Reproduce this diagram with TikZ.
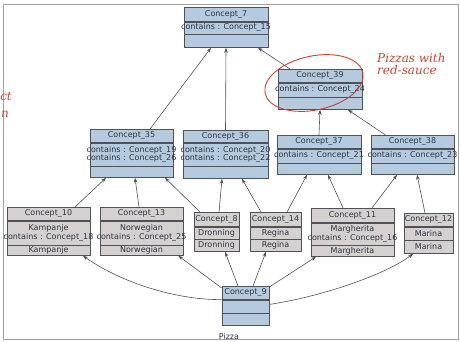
\documentclass[tikz,border=0pt]{standalone}
\usepackage{fontspec}
\setmainfont{DejaVu Sans}
\newfontfamily\handfont{DejaVu Serif}
\usepackage{tikz}
\usetikzlibrary{positioning}
\usetikzlibrary{calc}
\usetikzlibrary{arrows.meta}

\definecolor{conceptblue}{HTML}{B4CBDF}
\definecolor{conceptgrey}{HTML}{D5D1D1}
\definecolor{edgegrey}{HTML}{505258}
\definecolor{textgrey}{HTML}{2E3440}
\definecolor{framegrey}{HTML}{A0A0A0}
\definecolor{inkred}{HTML}{D0402F}

% zero-width label so the text may spill over the box
\newcommand{\nowidth}[1]{\makebox[0pt]{#1}}

\begin{document}
\begin{tikzpicture}[x=1pt, y=-1pt, font=\fontsize{8}{8.5}\selectfont,
    blue/.style={draw=edgegrey, fill=conceptblue, text=textgrey, inner sep=0pt, align=center, line width=0.6pt},
    grey/.style={draw=edgegrey, fill=conceptgrey, text=textgrey, inner sep=0pt, align=center, line width=0.6pt},
    edge/.style={edgegrey, line width=0.6pt, -{Stealth[length=5pt, width=3.6pt]}},
    hand/.style={text=inkred, inner sep=0pt, align=left, font=\handfont\itshape\fontsize{12}{12.5}\selectfont}]
        \useasboundingbox (0,0) rectangle (460,342);
        % Draw the frame
        \draw[framegrey, line width=0.7pt] (3,4) rectangle (458,339);

        % Draw the top concepts
        \node[blue, minimum width=84, minimum height=14, anchor=north] (t7) at (226,7) {\nowidth{Concept\_7}};
        \node[blue, minimum width=84, minimum height=12, below=0pt of t7] (a7) {\nowidth{contains : Concept\_15}};
        \node[blue, minimum width=84, minimum height=13, below=0pt of a7] (e7) {};

        \node[blue, minimum width=84, minimum height=13, anchor=north] (t39) at (320,69) {\nowidth{Concept\_39}};
        \node[blue, minimum width=84, minimum height=14, below=0pt of t39] (a39) {\nowidth{contains : Concept\_24}};
        \node[blue, minimum width=84, minimum height=12, below=0pt of a39] (e39) {};

        % Draw the middle row
        \node[blue, minimum width=83, minimum height=13, anchor=north] (t35) at (131.5,129) {\nowidth{Concept\_35}};
        \node[blue, minimum width=83, minimum height=23, below=0pt of t35] (a35) {\nowidth{contains : Concept\_19}\\\nowidth{contains : Concept\_26}};
        \node[blue, minimum width=83, minimum height=11, below=0pt of a35] (e35) {};

        \node[blue, minimum width=85, minimum height=12, anchor=north] (t36) at (225.5,130) {\nowidth{Concept\_36}};
        \node[blue, minimum width=85, minimum height=23, below=0pt of t36] (a36) {\nowidth{contains : Concept\_20}\\\nowidth{contains : Concept\_22}};
        \node[blue, minimum width=85, minimum height=12, below=0pt of a36] (e36) {};

        \node[blue, minimum width=84, minimum height=13, anchor=north] (t37) at (319,135) {\nowidth{Concept\_37}};
        \node[blue, minimum width=84, minimum height=14, below=0pt of t37] (a37) {\nowidth{contains : Concept\_21}};
        \node[blue, minimum width=84, minimum height=11, below=0pt of a37] (e37) {};

        \node[blue, minimum width=83, minimum height=13, anchor=north] (t38) at (412.5,135) {\nowidth{Concept\_38}};
        \node[blue, minimum width=83, minimum height=14, below=0pt of t38] (a38) {\nowidth{contains : Concept\_23}};
        \node[blue, minimum width=83, minimum height=11, below=0pt of a38] (e38) {};

        % Draw the pizzas
        \node[grey, minimum width=83, minimum height=13, anchor=north] (t10) at (48.5,207) {\nowidth{Concept\_10}};
        \node[grey, minimum width=83, minimum height=24, below=0pt of t10] (a10) {\nowidth{Kampanje}\\\nowidth{contains : Concept\_18}};
        \node[grey, minimum width=83, minimum height=10, below=0pt of a10] (e10) {\nowidth{Kampanje}};

        \node[grey, minimum width=83, minimum height=13, anchor=north] (t13) at (141.5,207) {\nowidth{Concept\_13}};
        \node[grey, minimum width=83, minimum height=24, below=0pt of t13] (a13) {\nowidth{Norwegian}\\\nowidth{contains : Concept\_25}};
        \node[grey, minimum width=83, minimum height=10, below=0pt of a13] (e13) {\nowidth{Norwegian}};

        \node[grey, minimum width=45, minimum height=14, anchor=north] (t8) at (216.5,212) {\nowidth{Concept\_8}};
        \node[grey, minimum width=45, minimum height=12, below=0pt of t8] (a8) {\nowidth{Dronning}};
        \node[grey, minimum width=45, minimum height=12, below=0pt of a8] (e8) {\nowidth{Dronning}};

        \node[grey, minimum width=51, minimum height=14, anchor=north] (t14) at (275.5,212) {\nowidth{Concept\_14}};
        \node[grey, minimum width=51, minimum height=12, below=0pt of t14] (a14) {\nowidth{Regina}};
        \node[grey, minimum width=51, minimum height=12, below=0pt of a14] (e14) {\nowidth{Regina}};

        \node[grey, minimum width=83, minimum height=14, anchor=north] (t11) at (352.5,208) {\nowidth{Concept\_11}};
        \node[grey, minimum width=83, minimum height=22, below=0pt of t11] (a11) {\nowidth{Margherita}\\\nowidth{contains : Concept\_16}};
        \node[grey, minimum width=83, minimum height=11, below=0pt of a11] (e11) {\nowidth{Margherita}};

        \node[grey, minimum width=49, minimum height=13, anchor=north] (t12) at (428.5,213) {\nowidth{Concept\_12}};
        \node[grey, minimum width=49, minimum height=13, below=0pt of t12] (a12) {\nowidth{Marina}};
        \node[grey, minimum width=49, minimum height=13, below=0pt of a12] (e12) {\nowidth{Marina}};

        % Draw the bottom concept
        \node[blue, minimum width=47, minimum height=13, anchor=north] (t9) at (245.5,286) {\nowidth{Concept\_9}};
        \node[blue, minimum width=47, minimum height=13, below=0pt of t9] (a9) {};
        \node[blue, minimum width=47, minimum height=12, below=0pt of a9] (e9) {};
        \node[text=textgrey, inner sep=0pt] (pizza) at (229,337) {Pizza};

        % Draw the edges up the lattice
        \draw[edge] ([xshift=18.5pt]t35.north) -- ([xshift=-15pt]e7.south);
        \draw[edge] (t36.north) -- (e7.south);
        \draw[edge] ([xshift=-30pt]t39.north) -- ([xshift=32pt]e7.south);
        \draw[edge] (t37.north) -- (e39.south);
        \draw[edge] ([xshift=-27pt]t38.north) -- ([xshift=28pt]e39.south);

        \draw[edge] ([xshift=26.5pt]t10.north) -- ([xshift=-25.5pt]e35.south);
        \draw[edge] ([xshift=-2.5pt]t13.north) -- ([xshift=3.5pt]e35.south);
        \draw[edge] ([xshift=-16.5pt]t8.north) -- ([xshift=33.5pt]e35.south);
        \draw[edge] ([xshift=2.5pt]t8.north) -- ([xshift=-3.5pt]e36.south);
        \draw[edge] ([xshift=-14.5pt]t14.north) -- ([xshift=16.5pt]e36.south);
        \draw[edge] ([xshift=11.5pt]t14.north) -- ([xshift=-12pt]e37.south);
        \draw[edge] ([xshift=-9.5pt]t11.north) -- ([xshift=9pt]e37.south);
        \draw[edge] ([xshift=19.5pt]t11.north) -- ([xshift=-15.5pt]e38.south);
        \draw[edge] ([xshift=-3.5pt]t12.north) -- ([xshift=4.5pt]e38.south);

        \draw[edge] (a9.north west) .. controls (180,300) and (125,285) .. ([xshift=34.5pt]e10.south);
        \draw[edge] ([yshift=-2pt]t9.north west) -- ([xshift=-5pt]e13.south east);
        \draw[edge] ([xshift=-7.5pt]t9.north) -- ([xshift=8.5pt]e8.south);
        \draw[edge] ([xshift=7.5pt]t9.north) -- ([xshift=-9.5pt]e14.south);
        \draw[edge] ([yshift=-1pt]t9.north east) -- ([xshift=-36.5pt]e11.south);
        \draw[edge] ([yshift=2pt]a9.east) .. controls (320,297) and (385,275) .. ([xshift=-15.5pt]e12.south);

        % Draw the red notes
        \draw[inkred, line width=0.9pt, rotate around={12:(314,83)}] (314,83) ellipse [x radius=50, y radius=27];
        \node[hand, anchor=north west] (note) at (377,53) {Pizzas with\\red-sauce};
        \node[hand, anchor=east] (frag1) at (12,97) {ct};
        \node[hand, anchor=east] (frag2) at (9,114) {n};
      \end{tikzpicture}
\end{document}
